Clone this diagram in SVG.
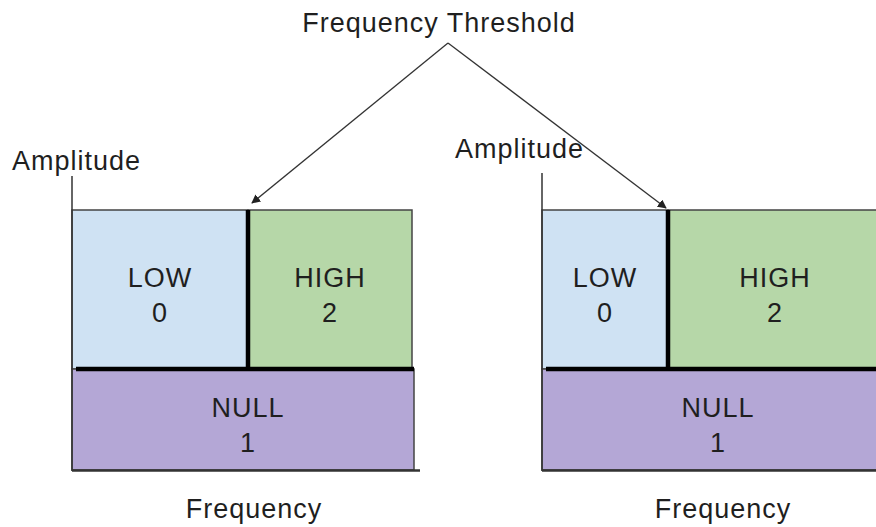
<svg xmlns="http://www.w3.org/2000/svg" width="876" height="527" viewBox="0 0 876 527">
  <defs>
    <marker id="arrow" viewBox="0 0 10 10" refX="9" refY="5" markerWidth="9" markerHeight="9" markerUnits="userSpaceOnUse" orient="auto">
      <path d="M0,0 L10,5 L0,10 z" fill="#222"/>
    </marker>
    <style>
      text { font-family: "Liberation Sans", Arial, sans-serif; font-size: 27px; letter-spacing: 1px; fill: #1f1f1f; }
      .mid { text-anchor: middle; }
      .box { stroke: #444; stroke-width: 1.5; }
      .low { fill: #cfe2f3; }
      .high { fill: #b6d7a8; }
      .null { fill: #b4a7d6; }
      .thick { stroke: #000; stroke-width: 4.5; fill: none; }
      .axis { stroke: #333; stroke-width: 1.5; fill: none; }
      .conn { stroke: #333; stroke-width: 1.3; fill: none; marker-end: url(#arrow); }
    </style>
  </defs>

  <!-- shared label -->
  <g id="threshold-label">
    <text class="mid" x="439" y="32">Frequency Threshold</text>
  </g>

  <!-- left chart -->
  <g id="left-chart">
    <rect class="box low" x="72" y="210" width="176" height="159"/>
    <rect class="box high" x="248" y="210" width="164" height="159"/>
    <rect class="box null" x="72" y="369" width="342" height="101"/>
    <line class="axis" x1="72" y1="176" x2="72" y2="471"/>
    <line class="axis" x1="72" y1="470.5" x2="420" y2="470.5" style="stroke-width:2.5"/>
    <line class="thick" x1="248" y1="210" x2="248" y2="369"/>
    <line class="thick" x1="76" y1="369" x2="414" y2="369"/>
    <text x="12" y="170">Amplitude</text>
    <text class="mid" x="160" y="287">LOW</text>
    <text class="mid" x="160" y="322">0</text>
    <text class="mid" x="330" y="287">HIGH</text>
    <text class="mid" x="330" y="322">2</text>
    <text class="mid" x="248" y="417">NULL</text>
    <text class="mid" x="248" y="452">1</text>
    <text class="mid" x="254" y="518">Frequency</text>
  </g>

  <!-- right chart -->
  <g id="right-chart">
    <rect class="box low" x="542" y="210" width="126" height="159"/>
    <rect class="box high" x="668" y="210" width="212" height="159"/>
    <rect class="box null" x="542" y="369" width="338" height="101"/>
    <line class="axis" x1="542" y1="173" x2="542" y2="471"/>
    <line class="axis" x1="542" y1="470.5" x2="880" y2="470.5" style="stroke-width:2.5"/>
    <line class="thick" x1="668" y1="210" x2="668" y2="369"/>
    <line class="thick" x1="546" y1="369" x2="880" y2="369"/>
    <text x="455" y="158">Amplitude</text>
    <text class="mid" x="605" y="287">LOW</text>
    <text class="mid" x="605" y="322">0</text>
    <text class="mid" x="775" y="287">HIGH</text>
    <text class="mid" x="775" y="322">2</text>
    <text class="mid" x="718" y="417">NULL</text>
    <text class="mid" x="718" y="452">1</text>
    <text class="mid" x="723" y="518">Frequency</text>
  </g>

  <!-- connectors -->
  <g id="connectors">
    <line class="conn" x1="448" y1="43" x2="252" y2="203"/>
    <line class="conn" x1="448" y1="43" x2="666" y2="208"/>
  </g>
</svg>
